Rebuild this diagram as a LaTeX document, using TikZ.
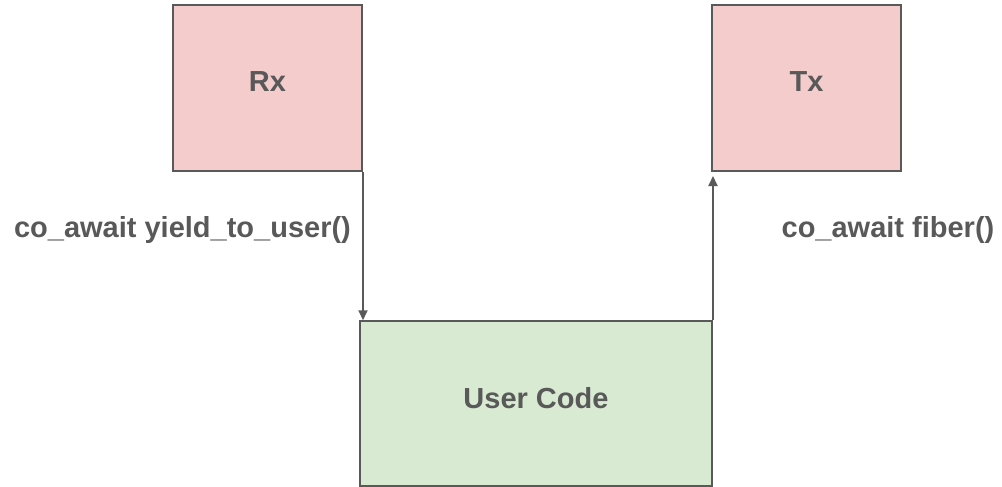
\documentclass[tikz,border=0pt]{standalone}
\usepackage{fontspec}
\setmainfont{Liberation Sans}
\usetikzlibrary{arrows.meta}
\definecolor{ink}{HTML}{595959}
\definecolor{pinkfill}{HTML}{F4CCCC}
\definecolor{greenfill}{HTML}{D9EAD3}
\tikzset{
  x=1pt, y=-1pt,
  txt/.style={text=ink, font=\fontsize{29}{34}\selectfont\bfseries, inner sep=0pt},
  boxshape/.style={draw=ink, line width=2pt, rectangle, inner sep=0pt},
  redbox/.style={boxshape, fill=pinkfill, minimum width=189pt, minimum height=166pt},
  userbox/.style={boxshape, fill=greenfill, minimum width=352pt, minimum height=164.5pt},
  flow/.style={draw=ink, line width=2pt, -{Triangle[length=10pt,width=9pt]}},
}
\begin{document}
\begin{tikzpicture}
\useasboundingbox (0,0) rectangle (1002,487);

% the three blocks
\node[redbox, label={[txt,yshift=6pt]center:Rx}] (rx) at (267.5,88) {};
\node[redbox, label={[txt,yshift=6pt]center:Tx}] (tx) at (806.5,88) {};
\node[userbox, label={[txt,yshift=5pt]center:User Code}] (uc) at (536,403.5) {};

% hand-over labels
\node[txt] (lblyield) at (182.5,230) {co\_await yield\_to\_user()};
\node[txt] (lblfiber) at (888,230) {co\_await fiber()};

% control flow between the blocks
\draw[flow] (rx.south east) -- (rx.south east |- uc.north);
\draw[flow, shorten >=4pt] (uc.north east) -- (uc.north east |- tx.south);
\end{tikzpicture}
\end{document}
